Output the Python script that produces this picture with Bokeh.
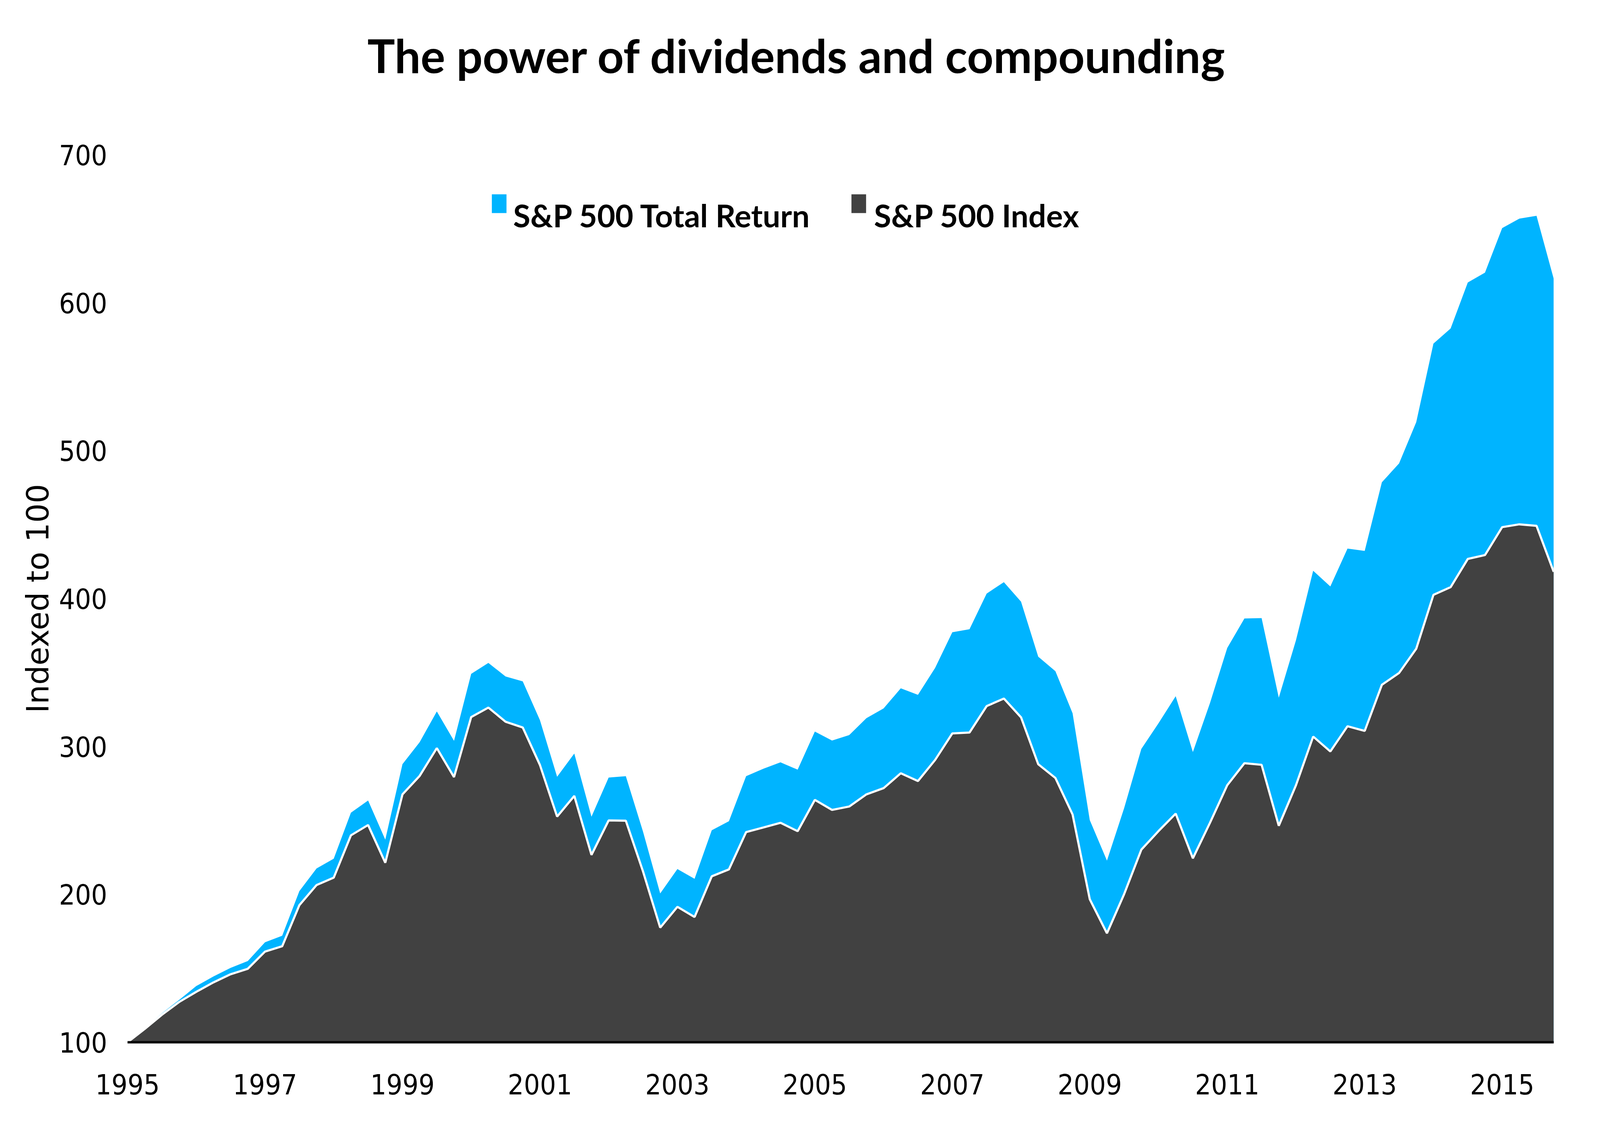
from bokeh.plotting import figure
from bokeh.models import Range1d, FixedTicker, ColumnDataSource, Title
from bokeh.embed import file_html
from bokeh.resources import INLINE
from bokeh.core.properties import value

# ---------------- data (quarter-end values, Dec 1994 = 100) ----------------
start_year = 1995.0          # first point (Dec 1994 close) sits on the 1995 tick
quarter_step = 0.25

sp500_index = [
    100.0, 109.0, 118.6, 127.2, 134.1, 140.5, 146.0, 149.7, 161.3, 164.9,
    192.7, 206.3, 211.3, 239.9, 246.9, 221.4, 267.6, 280.1, 298.9, 279.3,
    319.9, 326.3, 316.7, 312.8, 287.5, 252.6, 266.6, 226.7, 250.0, 249.8,
    215.5, 177.5, 191.6, 184.7, 212.2, 216.9, 242.1, 245.2, 248.4, 242.7,
    263.9, 257.1, 259.4, 267.6, 271.8, 281.9, 276.6, 290.9, 308.8, 309.4,
    327.3, 332.4, 319.7, 288.0, 278.7, 254.0, 196.7, 173.7, 200.2, 230.2,
    242.8, 254.6, 224.4, 248.5, 273.8, 288.7, 287.6, 246.4, 273.8, 306.7,
    296.6, 313.7, 310.5, 341.7, 349.7, 366.1, 402.5, 407.7, 426.8, 429.4,
    448.3, 450.2, 449.2, 418.1,
]

sp500_total_return = [
    100.0, 109.5, 119.6, 128.6, 138.0, 144.5, 150.3, 154.9, 167.6, 172.0,
    202.2, 217.5, 224.1, 255.2, 263.5, 237.0, 288.0, 302.9, 323.7, 303.8,
    349.1, 356.5, 347.3, 344.0, 317.8, 279.5, 295.2, 252.5, 279.0, 279.9,
    242.4, 200.6, 217.1, 210.5, 243.3, 249.5, 279.9, 284.9, 289.3, 284.3,
    310.1, 304.0, 307.7, 319.1, 325.7, 339.3, 334.9, 353.1, 377.2, 379.3,
    403.4, 411.1, 397.9, 360.7, 350.9, 322.4, 250.2, 222.8, 258.3, 298.3,
    315.7, 334.0, 296.2, 329.5, 366.6, 386.5, 386.8, 333.0, 371.8, 418.8,
    408.2, 433.8, 432.2, 478.6, 491.4, 519.3, 572.4, 582.6, 613.7, 620.4,
    650.5, 656.9, 658.8, 616.2,
]

series_names = ["S&P 500 Total Return", "S&P 500 Index"]
x_tick_years = [1995, 1997, 1999, 2001, 2003, 2005, 2007, 2009, 2011, 2013, 2015]
y_ticks = [100, 200, 300, 400, 500, 600, 700]
title_text = "The power of dividends and compounding"
y_label = "Indexed to 100"

# ---------------- styling / layout ----------------
HEAD_FONT = "Lato"
TICK_FONT = "DejaVu Sans Condensed"
LABEL_FONT = "DejaVu Sans"
BLUE = "#00B4FF"
DARK = "#414141"

W, H = 4080, 2872

x = [start_year + quarter_step * i for i in range(len(sp500_index))]
base = [y_ticks[0]] * len(x)
src = ColumnDataSource(dict(x=x, idx=sp500_index, tr=sp500_total_return, base=base))

p = figure(
    width=W, height=H,
    x_range=Range1d(start_year, x[-1]), y_range=Range1d(y_ticks[0], y_ticks[-1]),
    output_backend="svg", toolbar_location=None,
    min_border_left=326, min_border_right=103, min_border_top=396, min_border_bottom=204,
)
p.outline_line_color = None
p.grid.visible = False
p.background_fill_color = "white"
p.border_fill_color = "white"

# built-in title left empty; a spacer and the real title are stacked above the frame
p.title.text = ""
p.title.standoff = 0
p.title.text_font_size = "1px"
p.add_layout(Title(text=" ", text_font_size="10px", standoff=172), "above")
p.add_layout(Title(text=title_text, align="left", offset=614, vertical_align="bottom",
                   standoff=0, text_font=HEAD_FONT, text_font_size="118px",
                   text_font_style="bold", text_color="black"), "above")

p.varea(x="x", y1="base", y2="tr", source=src, fill_color=BLUE)
p.varea(x="x", y1="base", y2="idx", source=src, fill_color=DARK)
p.line(x="x", y="idx", source=src, line_color="white", line_width=5.5)

# x axis
xa = p.xaxis[0]
xa.ticker = FixedTicker(ticks=x_tick_years)
xa.axis_line_color = "black"
xa.axis_line_width = 6
xa.major_tick_line_color = None
xa.minor_tick_line_color = None
xa.major_tick_out = 0
xa.major_tick_in = 0
xa.major_label_standoff = 80
xa.major_label_text_font = TICK_FONT
xa.major_label_text_font_size = "72px"
xa.major_label_text_color = "black"

# y axis
ya = p.yaxis[0]
ya.ticker = FixedTicker(ticks=y_ticks)
ya.axis_line_color = None
ya.major_tick_line_color = None
ya.minor_tick_line_color = None
ya.major_tick_out = 0
ya.major_tick_in = 0
ya.major_label_standoff = 52
ya.major_label_text_font = TICK_FONT
ya.major_label_text_font_size = "72px"
ya.major_label_text_color = "black"
ya.axis_label = y_label
ya.axis_label_text_font = LABEL_FONT
ya.axis_label_text_font_size = "78px"
ya.axis_label_text_font_style = "normal"
ya.axis_label_text_color = "black"
ya.axis_label_standoff = 6

# legend (keys + labels)
p.rect(x=[2000.407, 2005.639], y=[667.0, 667.0], width=37.5, height=48,
       width_units="screen", height_units="screen",
       fill_color=[BLUE, DARK], line_color=None)
p.text(x=[2000.611, 2005.861], y=[659.3, 659.3], text=series_names,
       text_font=value(HEAD_FONT), text_font_size="80px", text_font_style="bold",
       text_baseline="alphabetic", text_align="left", text_color="black")

open("out.html", "w").write(file_html(p, INLINE))
